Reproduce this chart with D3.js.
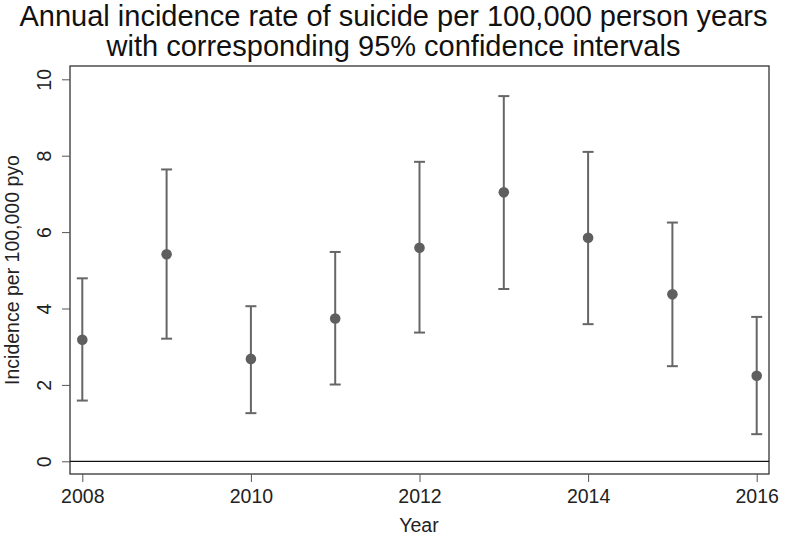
<!DOCTYPE html>
<html><head><meta charset="utf-8">
<script src="https://cdn.jsdelivr.net/npm/d3@7"></script>
<style>body{margin:0;background:#fff}svg{display:block}text{font-family:"Liberation Sans",Arial,sans-serif}</style>
</head><body>
<script>
const years = [2008, 2009, 2010, 2011, 2012, 2013, 2014, 2015, 2016];
const rate  = [3.18, 5.42, 2.68, 3.74, 5.59, 7.04, 5.85, 4.37, 2.24];
const lower = [1.59, 3.21, 1.26, 2.01, 3.37, 4.51, 3.59, 2.49, 0.71];
const upper = [4.79, 7.64, 4.06, 5.48, 7.84, 9.56, 8.10, 6.25, 3.78];
const yTicks = [0, 2, 4, 6, 8, 10];
const xTicks = [2008, 2010, 2012, 2014, 2016];

const W = 787, H = 538;
const frame = {l: 70, r: 769, t: 66, b: 474};
const svg = d3.select("body").append("svg").attr("width", W).attr("height", H);

const x = d3.scaleLinear().domain([2008, 2016]).range([82.3, 756.7]);
const y = d3.scaleLinear().domain([0, 10]).range([461.3, 79.3]);

// frame
svg.append("rect").attr("x", frame.l).attr("y", frame.t)
  .attr("width", frame.r - frame.l).attr("height", frame.b - frame.t)
  .attr("fill", "none").attr("stroke", "#333").attr("stroke-width", 1.3);

// axes
const yAxis = svg.append("g").attr("transform", `translate(${frame.l},0)`)
  .call(d3.axisLeft(y).tickValues(yTicks).tickSize(8).tickPadding(6).tickFormat(d3.format("d")));
yAxis.select(".domain").remove();
yAxis.selectAll(".tick line").attr("stroke", "#555");
yAxis.selectAll(".tick text").attr("font-size", 19.5).attr("fill", "#222")
  .attr("text-anchor", "middle")
  .attr("x", 0).attr("y", 0).attr("dy", null)
  .attr("transform", "translate(-24,0) rotate(-90)").attr("dominant-baseline", "middle");

const xAxis = svg.append("g").attr("transform", `translate(0,${frame.b})`)
  .call(d3.axisBottom(x).tickValues(xTicks).tickSize(8).tickFormat(d3.format("d")));
xAxis.select(".domain").remove();
xAxis.selectAll(".tick line").attr("stroke", "#555");
xAxis.selectAll(".tick text").attr("font-size", 19.5).attr("fill", "#222")
  .attr("y", 29).attr("dy", "0");

// zero line
svg.append("line").attr("x1", frame.l).attr("x2", frame.r)
  .attr("y1", y(0)).attr("y2", y(0)).attr("stroke", "#111").attr("stroke-width", 1.3);

// error bars
const data = years.map((yr, i) => ({yr, v: rate[i], lo: lower[i], hi: upper[i]}));
const col = "#666";
const g = svg.append("g");
g.selectAll(".bar").data(data).join("line")
  .attr("x1", d => x(d.yr)).attr("x2", d => x(d.yr))
  .attr("y1", d => y(d.lo)).attr("y2", d => y(d.hi))
  .attr("stroke", col).attr("stroke-width", 2);
g.selectAll(".capT").data(data).join("line")
  .attr("x1", d => x(d.yr) - 5.5).attr("x2", d => x(d.yr) + 5.5)
  .attr("y1", d => y(d.hi)).attr("y2", d => y(d.hi))
  .attr("stroke", col).attr("stroke-width", 2);
g.selectAll(".capB").data(data).join("line")
  .attr("x1", d => x(d.yr) - 5.5).attr("x2", d => x(d.yr) + 5.5)
  .attr("y1", d => y(d.lo)).attr("y2", d => y(d.lo))
  .attr("stroke", col).attr("stroke-width", 2);
g.selectAll("circle").data(data).join("circle")
  .attr("cx", d => x(d.yr)).attr("cy", d => y(d.v)).attr("r", 5.3)
  .attr("fill", "#5f5f5f");

// titles
svg.append("text").attr("x", 393.5).attr("y", 26).attr("text-anchor", "middle")
  .attr("font-size", 29).attr("fill", "#111")
  .text("Annual incidence rate of suicide per 100,000 person years");
svg.append("text").attr("x", 393.5).attr("y", 56).attr("text-anchor", "middle")
  .attr("font-size", 29).attr("fill", "#111")
  .text("with corresponding 95% confidence intervals");
svg.append("text").attr("x", 419).attr("y", 532).attr("text-anchor", "middle")
  .attr("font-size", 19.5).attr("fill", "#222").text("Year");
svg.append("text").attr("transform", `translate(18.5,${(frame.t + frame.b) / 2}) rotate(-90)`)
  .attr("text-anchor", "middle").attr("font-size", 19.5).attr("fill", "#222")
  .text("Incidence per 100,000 pyo");
</script>
</body></html>
